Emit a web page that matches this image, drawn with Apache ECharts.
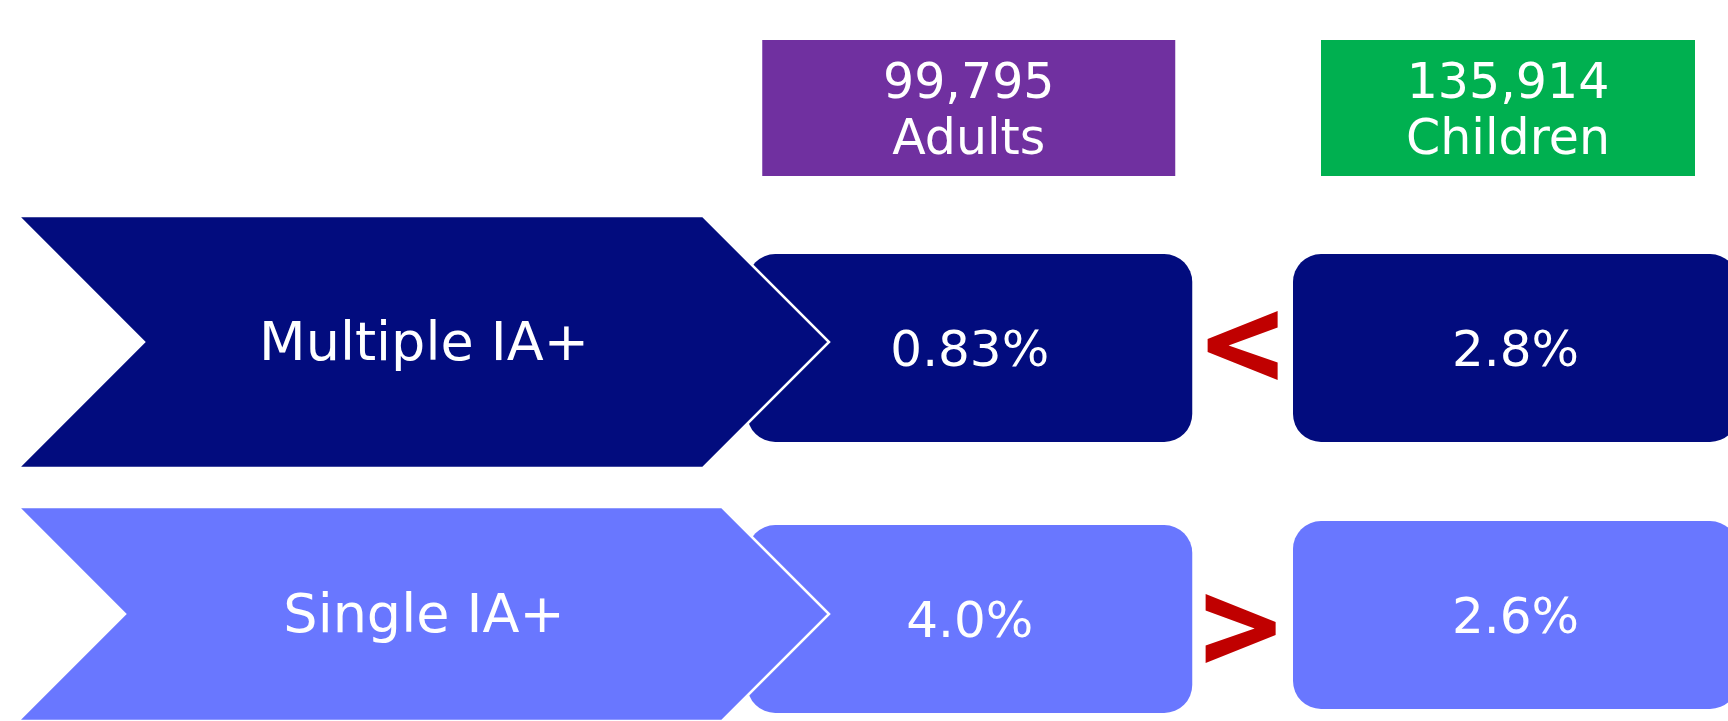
<!DOCTYPE html>
<html>
<head>
<meta charset="utf-8">
<script src="https://cdn.jsdelivr.net/npm/echarts@6/dist/echarts.min.js"></script>
<style>
  html, body { margin: 0; padding: 0; background: #ffffff; overflow: hidden; }
  #chart { width: 1728px; height: 721px; }
</style>
</head>
<body>
<div id="chart"></div>
<script>
// Rows of the comparison and the two population groups
const rowLabels = ['Multiple IA+', 'Single IA+'];
const groupNames = ['Adults', 'Children'];
const groupCounts = [99795, 135914];
const adultRates = [0.83, 4.0];
const childRates = [2.8, 2.6];

// Styling
const FONT = '"DejaVu Sans", Verdana, sans-serif';
const rowColors = ['#020C7E', '#6977FF'];
const groupColors = ['#7030A0', '#00B050'];
const signColor = '#C00000';
const TEXT_NUDGE = 3.5; // centres the cap height on the anchor point

const fmtRate = v => (v < 1 ? v.toFixed(2) : v.toFixed(1)) + '%';
const fmtCount = v => v.toLocaleString('en-US');

function textEl(x, y, text, size, lineHeight) {
  return {
    type: 'text',
    x: x, y: y + TEXT_NUDGE,
    style: {
      text: text,
      fill: '#ffffff',
      fontSize: size,
      fontFamily: FONT,
      lineHeight: lineHeight || size,
      align: 'center', verticalAlign: 'middle',
      textAlign: 'center', textVerticalAlign: 'middle'
    }
  };
}

// Group header boxes sit above the first row
const headerData = groupNames.map((g, i) => [i + 1, 0, groupCounts[i]]);
const headerWidth = [413, 374];
const headerDx = [-1, -7.5];
function renderHeader(params, api) {
  const gi = params.dataIndex;
  const c = api.coord([api.value(0), api.value(1)]);
  const cx = c[0] + headerDx[gi];
  const cy = c[1] - 234;
  const w = headerWidth[gi], h = 136;
  return {
    type: 'group',
    children: [
      { type: 'rect', shape: { x: cx - w / 2, y: cy - h / 2, width: w, height: h },
        style: { fill: groupColors[gi] } },
      textEl(cx, cy + 2, fmtCount(api.value(2)) + '\n' + groupNames[gi], 49, 56)
    ]
  };
}

// Rate cells: one rounded box per row and group
const cellData = [];
rowLabels.forEach((_, r) => {
  cellData.push([1, r, adultRates[r]]);
  cellData.push([2, r, childRates[r]]);
});
const cellShift = [[0, 0], [-1, -5]];
function renderCell(params, api) {
  const gi = api.value(0) - 1, r = api.value(1);
  const c = api.coord([api.value(0), r]);
  const w = 445, h = 188;
  const top = c[1] - 88 + cellShift[r][gi];
  return {
    type: 'group',
    children: [
      { type: 'rect', shape: { x: c[0] - w / 2, y: top, width: w, height: h, r: 28 },
        style: { fill: rowColors[r] } },
      textEl(c[0], top + h / 2 + 1.5, fmtRate(api.value(2)), 50)
    ]
  };
}

// Chevron row labels, drawn over the left edge of the adult cells
const chevronData = rowLabels.map((_, r) => [0, r]);
const chevronHalf = [126, 107];
function renderChevron(params, api) {
  const r = api.value(1);
  const c = api.coord([0, r]);
  const cx = c[0], cy = c[1], hh = chevronHalf[r];
  const left = cx - 406, tip = cx + 405;
  return {
    type: 'group',
    children: [
      { type: 'polygon',
        shape: { points: [[left, cy - hh], [tip - hh, cy - hh], [tip, cy], [tip - hh, cy + hh], [left, cy + hh], [left + hh, cy]] },
        style: { fill: rowColors[r], stroke: '#ffffff', lineWidth: 2.5, lineJoin: 'miter' } },
      textEl(cx, cy, rowLabels[r], 54)
    ]
  };
}

// Comparison sign between the adult and child rates of each row
const signData = rowLabels.map((_, r) => [1, r, adultRates[r], childRates[r]]);
const signDx = [0, -2];
const signDy = [3.5, 14.5];
// "<" outline around its centre; mirrored for ">"
const lessThan = [[35, -34.5], [35, -18], [-14, 0], [35, 17], [35, 34.5], [-35, 6.5], [-35, -6.5]];
function renderSign(params, api) {
  const r = api.value(1);
  const a = api.coord([1, r]), b = api.coord([2, r]);
  const mx = (a[0] + b[0]) / 2 + signDx[r];
  const my = a[1] + signDy[r];
  const flip = api.value(2) < api.value(3) ? 1 : -1;
  const pts = lessThan.map(p => [mx + p[0] * flip, my + p[1]]);
  return {
    type: 'polygon',
    shape: { points: pts },
    style: { fill: signColor }
  };
}

const chart = echarts.init(document.getElementById('chart'), null, { renderer: 'canvas' });
chart.setOption({
  animation: false,
  backgroundColor: '#ffffff',
  grid: { left: 424, top: 342, width: 1091.5, height: 272, outerBoundsMode: 'none', containLabel: false },
  xAxis: { type: 'category', data: [''].concat(groupNames), boundaryGap: false, show: false },
  yAxis: { type: 'category', data: rowLabels, inverse: true, boundaryGap: false, show: false },
  series: [
    { type: 'custom', name: 'headers', data: headerData, renderItem: renderHeader, z: 1, silent: true },
    { type: 'custom', name: 'cells', data: cellData, renderItem: renderCell, z: 2, silent: true },
    { type: 'custom', name: 'rows', data: chevronData, renderItem: renderChevron, z: 3, silent: true },
    { type: 'custom', name: 'signs', data: signData, renderItem: renderSign, z: 4, silent: true }
  ]
});
</script>
</body>
</html>
